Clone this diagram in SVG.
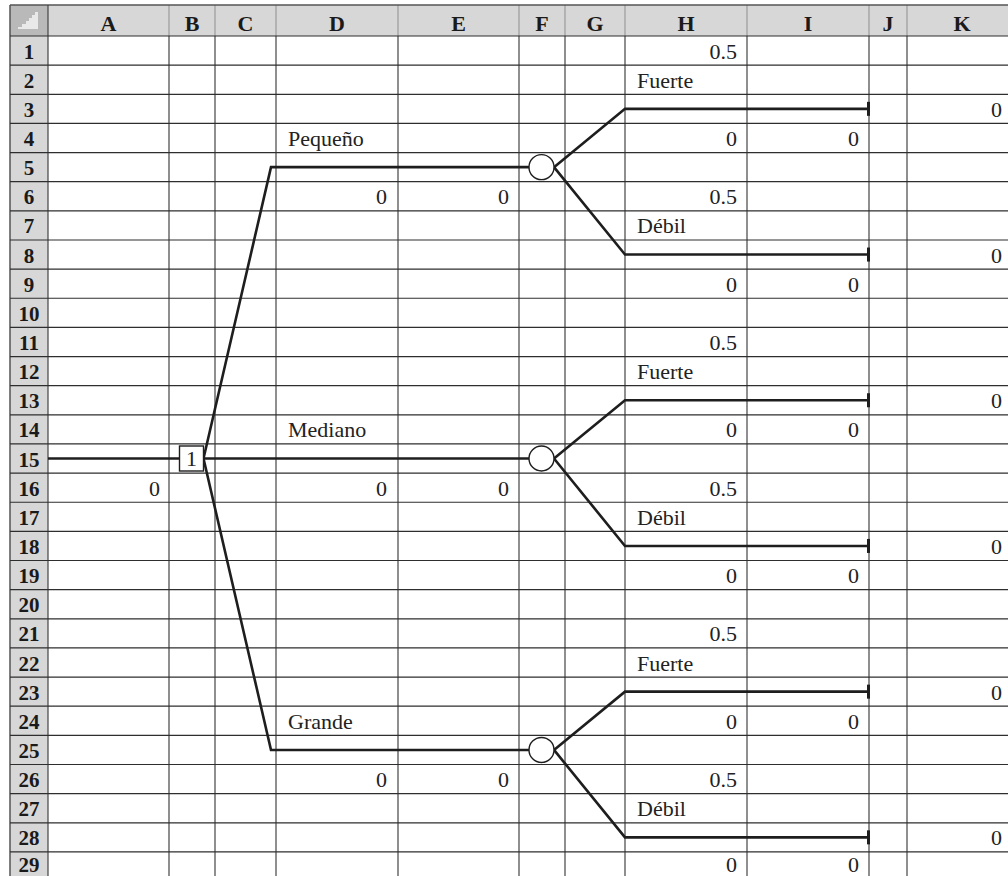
<svg xmlns="http://www.w3.org/2000/svg" width="1008" height="876" viewBox="0 0 1008 876">
<style>
.hdr{fill:#d7d7d7}
.hl{stroke:#2e2e2e;stroke-width:1.2}
.vl{stroke:#444;stroke-width:1.2}
.hv{stroke:#9a9a9a;stroke-width:1.2}
.hd{font-family:"Liberation Serif",serif;font-weight:bold;font-size:21px;fill:#1a1a1a;text-anchor:middle}
.cl{font-size:22px}
.t{font-family:"Liberation Serif",serif;font-size:22px;fill:#222}
.r{text-anchor:end}
.tree{fill:none;stroke:#1e1e1e;stroke-width:2.6;stroke-linejoin:miter}
.node{fill:#fff;stroke:#1e1e1e;stroke-width:1.4}
</style>
<rect width="1008" height="876" fill="#fff"/>
<g id="grid">
<rect class="hdr" x="10" y="5" width="998" height="31"/>
<rect class="hdr" x="10" y="5" width="38" height="871"/>
<rect x="10" y="5" width="38" height="31" fill="#b9b9b9"/>
<polygon points="18,29 38,29 38,12 35,12 35,15 32,15 32,18 29,18 29,21 26,21 26,24 22,24 22,27 18,27" fill="#e9e9e9"/>
<g class="hv">
<line x1="169" y1="5" x2="169" y2="36"/><line x1="215" y1="5" x2="215" y2="36"/><line x1="276" y1="5" x2="276" y2="36"/>
<line x1="398" y1="5" x2="398" y2="36"/><line x1="519" y1="5" x2="519" y2="36"/><line x1="565" y1="5" x2="565" y2="36"/>
<line x1="625" y1="5" x2="625" y2="36"/><line x1="747" y1="5" x2="747" y2="36"/><line x1="869" y1="5" x2="869" y2="36"/>
<line x1="907" y1="5" x2="907" y2="36"/>
</g>
<line x1="10" y1="5" x2="1008" y2="5" stroke="#555" stroke-width="1.5"/>
<line x1="10" y1="5" x2="10" y2="876" stroke="#555" stroke-width="1.5"/>
<g class="vl">
<line x1="48" y1="5" x2="48" y2="876"/>
<line x1="169" y1="36" x2="169" y2="876"/><line x1="215" y1="36" x2="215" y2="876"/><line x1="276" y1="36" x2="276" y2="876"/>
<line x1="398" y1="36" x2="398" y2="876"/><line x1="519" y1="36" x2="519" y2="876"/><line x1="565" y1="36" x2="565" y2="876"/>
<line x1="625" y1="36" x2="625" y2="876"/><line x1="747" y1="36" x2="747" y2="876"/><line x1="869" y1="36" x2="869" y2="876"/>
<line x1="907" y1="36" x2="907" y2="876"/>
</g>
<g class="hl">
<line x1="10" y1="36" x2="1008" y2="36"/><line x1="10" y1="65.14" x2="1008" y2="65.14"/><line x1="10" y1="94.28" x2="1008" y2="94.28"/>
<line x1="10" y1="123.42" x2="1008" y2="123.42"/><line x1="10" y1="152.56" x2="1008" y2="152.56"/><line x1="10" y1="181.7" x2="1008" y2="181.7"/>
<line x1="10" y1="210.84" x2="1008" y2="210.84"/><line x1="10" y1="239.98" x2="1008" y2="239.98"/><line x1="10" y1="269.12" x2="1008" y2="269.12"/>
<line x1="10" y1="298.26" x2="1008" y2="298.26"/><line x1="10" y1="327.4" x2="1008" y2="327.4"/><line x1="10" y1="356.54" x2="1008" y2="356.54"/>
<line x1="10" y1="385.68" x2="1008" y2="385.68"/><line x1="10" y1="414.82" x2="1008" y2="414.82"/><line x1="10" y1="443.96" x2="1008" y2="443.96"/>
<line x1="10" y1="473.1" x2="1008" y2="473.1"/><line x1="10" y1="502.24" x2="1008" y2="502.24"/><line x1="10" y1="531.38" x2="1008" y2="531.38"/>
<line x1="10" y1="560.52" x2="1008" y2="560.52"/><line x1="10" y1="589.66" x2="1008" y2="589.66"/><line x1="10" y1="618.8" x2="1008" y2="618.8"/>
<line x1="10" y1="647.94" x2="1008" y2="647.94"/><line x1="10" y1="677.08" x2="1008" y2="677.08"/><line x1="10" y1="706.22" x2="1008" y2="706.22"/>
<line x1="10" y1="735.36" x2="1008" y2="735.36"/><line x1="10" y1="764.5" x2="1008" y2="764.5"/><line x1="10" y1="793.64" x2="1008" y2="793.64"/>
<line x1="10" y1="822.78" x2="1008" y2="822.78"/><line x1="10" y1="851.92" x2="1008" y2="851.92"/>
</g>
<g class="hd">
<text class="cl" x="108.5" y="31">A</text><text class="cl" x="192" y="31">B</text><text class="cl" x="245.5" y="31">C</text><text class="cl" x="337" y="31">D</text>
<text class="cl" x="458.5" y="31">E</text><text class="cl" x="542" y="31">F</text><text class="cl" x="595" y="31">G</text><text class="cl" x="686" y="31">H</text>
<text class="cl" x="808" y="31">I</text><text class="cl" x="888" y="31">J</text><text class="cl" x="962" y="31">K</text>
<text x="29" y="58.64">1</text><text x="29" y="87.78">2</text><text x="29" y="116.92">3</text><text x="29" y="146.06">4</text>
<text x="29" y="175.2">5</text><text x="29" y="204.34">6</text><text x="29" y="233.48">7</text><text x="29" y="262.62">8</text>
<text x="29" y="291.76">9</text><text x="29" y="320.9">10</text><text x="29" y="350.04">11</text><text x="29" y="379.18">12</text>
<text x="29" y="408.32">13</text><text x="29" y="437.46">14</text><text x="29" y="466.6">15</text><text x="29" y="495.74">16</text>
<text x="29" y="524.88">17</text><text x="29" y="554.02">18</text><text x="29" y="583.16">19</text><text x="29" y="612.3">20</text>
<text x="29" y="641.44">21</text><text x="29" y="670.58">22</text><text x="29" y="699.72">23</text><text x="29" y="728.86">24</text>
<text x="29" y="758">25</text><text x="29" y="787.14">26</text><text x="29" y="816.28">27</text><text x="29" y="845.42">28</text>
<text x="29" y="872">29</text>
</g>
</g>
<g id="connectors" class="tree">
<path d="M48 458.53 H179.5"/>
<path d="M203.5 458.53 H529"/>
<path d="M203.5 458.53 L271 167.13 H529"/>
<path d="M203.5 458.53 L271 749.93 H529"/>
<path d="M554 167.13 L625 108.85 H868.5 M554 167.13 L625 254.55 H868.5"/>
<path d="M554 458.53 L625 400.25 H868.5 M554 458.53 L625 545.95 H868.5"/>
<path d="M554 749.93 L625 691.65 H868.5 M554 749.93 L625 837.35 H868.5"/>
</g>
<g id="ends" fill="#1e1e1e">
<rect x="867" y="101.85" width="3" height="14"/><rect x="867" y="247.55" width="3" height="14"/>
<rect x="867" y="393.25" width="3" height="14"/><rect x="867" y="538.95" width="3" height="14"/>
<rect x="867" y="684.65" width="3" height="14"/><rect x="867" y="830.35" width="3" height="14"/>
</g>
<g id="decision">
<rect class="node" x="179.5" y="446" width="24" height="25"/>
<text class="t" x="191.5" y="466" text-anchor="middle">1</text>
<text class="t r" x="160" y="495.74">0</text>
</g>
<g id="chance-pequeno">
<circle class="node" cx="541.5" cy="167.13" r="12.5"/>
<text class="t" x="288" y="146.06">Pequeño</text>
<text class="t r" x="387" y="204.34">0</text><text class="t r" x="509" y="204.34">0</text>
<text class="t r" x="737" y="58.64">0.5</text><text class="t" x="637" y="87.78">Fuerte</text>
<text class="t r" x="1002" y="116.92">0</text>
<text class="t r" x="737" y="146.06">0</text><text class="t r" x="859" y="146.06">0</text>
<text class="t r" x="737" y="204.34">0.5</text><text class="t" x="637" y="233.48">Débil</text>
<text class="t r" x="1002" y="262.62">0</text>
<text class="t r" x="737" y="291.76">0</text><text class="t r" x="859" y="291.76">0</text>
</g>
<g id="chance-mediano">
<circle class="node" cx="541.5" cy="458.53" r="12.5"/>
<text class="t" x="288" y="437.46">Mediano</text>
<text class="t r" x="387" y="495.74">0</text><text class="t r" x="509" y="495.74">0</text>
<text class="t r" x="737" y="350.04">0.5</text><text class="t" x="637" y="379.18">Fuerte</text>
<text class="t r" x="1002" y="408.32">0</text>
<text class="t r" x="737" y="437.46">0</text><text class="t r" x="859" y="437.46">0</text>
<text class="t r" x="737" y="495.74">0.5</text><text class="t" x="637" y="524.88">Débil</text>
<text class="t r" x="1002" y="554.02">0</text>
<text class="t r" x="737" y="583.16">0</text><text class="t r" x="859" y="583.16">0</text>
</g>
<g id="chance-grande">
<circle class="node" cx="541.5" cy="749.93" r="12.5"/>
<text class="t" x="288" y="728.86">Grande</text>
<text class="t r" x="387" y="787.14">0</text><text class="t r" x="509" y="787.14">0</text>
<text class="t r" x="737" y="641.44">0.5</text><text class="t" x="637" y="670.58">Fuerte</text>
<text class="t r" x="1002" y="699.72">0</text>
<text class="t r" x="737" y="728.86">0</text><text class="t r" x="859" y="728.86">0</text>
<text class="t r" x="737" y="787.14">0.5</text><text class="t" x="637" y="816.28">Débil</text>
<text class="t r" x="1002" y="845.42">0</text>
<text class="t r" x="737" y="872">0</text><text class="t r" x="859" y="872">0</text>
</g>
</svg>
